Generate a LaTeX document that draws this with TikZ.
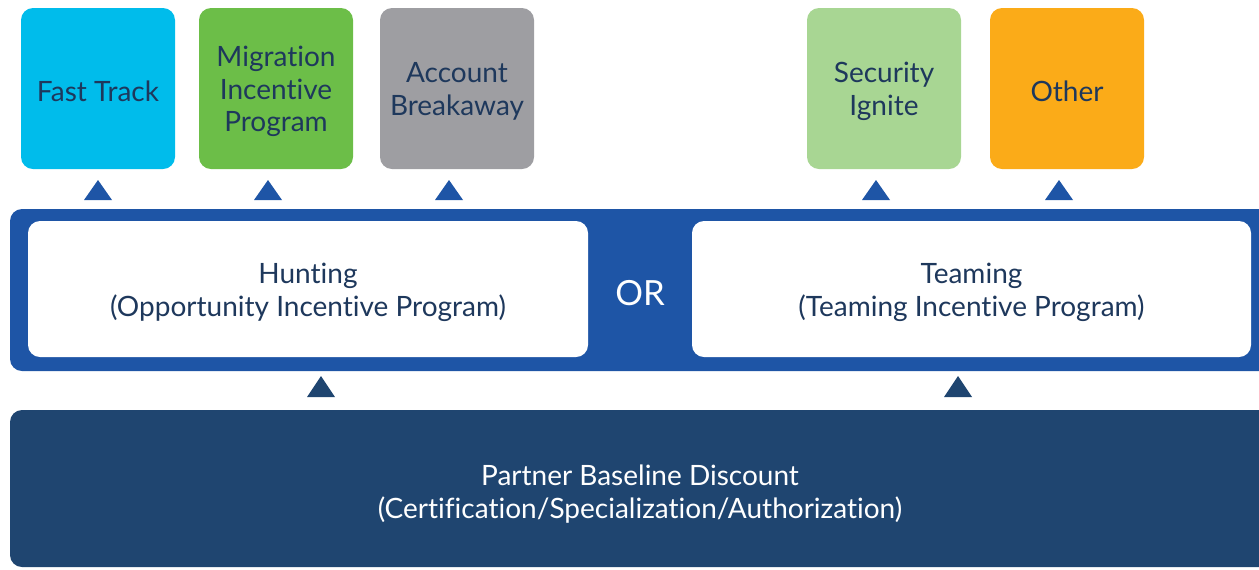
\documentclass[tikz,border=0pt]{standalone}
\usepackage{fontspec}
\setmainfont{Lato}[Ligatures=NoCommon]
\definecolor{ftcyan}{RGB}{0,188,235}
\definecolor{migreen}{RGB}{108,190,72}
\definecolor{abgray}{RGB}{158,158,162}
\definecolor{silgreen}{RGB}{168,214,147}
\definecolor{othorange}{RGB}{251,171,24}
\definecolor{bandblue}{RGB}{30,85,166}
\definecolor{basenavy}{RGB}{31,69,112}
\definecolor{txtnavy}{RGB}{30,56,92}
\tikzset{
	every picture/.style={line width=0.75pt},
	topbox/.style={rounded corners=9pt, minimum width=115.5pt, minimum height=120.75pt,
		inner sep=0pt},
	whitebox/.style={fill=white, rounded corners=9pt, minimum height=102pt, inner sep=0pt},
	boxtext/.style={align=center, text=txtnavy, font=\fontsize{21}{24.5}\selectfont},
	bluetri/.style={fill=bandblue},
	navytri/.style={fill=basenavy}}

\begin{document}
\begin{tikzpicture}[x=0.75pt,y=0.75pt,yscale=-1,xscale=1]
	\useasboundingbox (0,0) rectangle (1259,569);

	% Top row of programs
	\node[topbox, fill=ftcyan]    (fasttrack) at (98,88.5)  {};
	\node[topbox, fill=migreen]   (migration) at (276,88.5) {};
	\node[topbox, fill=abgray]    (breakaway) at (457,88.5) {};
	\node[topbox, fill=silgreen]  (ignite)    at (884,88.5) {};
	\node[topbox, fill=othorange] (other)     at (1067,88.5) {};
	\node[boxtext] (fasttracktxt) at (98,91.5)  {Fast Track};
	\node[boxtext] (migrationtxt) at (276,91.5) {Migration\\Incentive\\Program};
	\node[boxtext] (breakawaytxt) at (457,91.5) {Account\\Breakaway};
	\node[boxtext] (ignitetxt)    at (884,91.5) {Security\\Ignite};
	\node[boxtext] (othertxt)     at (1067,91.5) {Other};

	% Blue band with the two incentive programs
	\fill[bandblue, rounded corners=9pt] (10,209) rectangle (1280,371);
	\node[whitebox, minimum width=420pt] (hunting) at (308,289) {};
	\node[whitebox, minimum width=419.25pt] (teaming) at (971.5,289) {};
	\node[boxtext] (huntingtxt) at (308,292.5) {Hunting\\(Opportunity Incentive Program)};
	\node[boxtext] (teamingtxt) at (971.5,292.5) {Teaming\\(Teaming Incentive Program)};
	\node[text=white, font=\fontsize{26}{30}\selectfont] (or) at (640,293) {OR};

	% Baseline
	\fill[basenavy, rounded corners=9pt] (10,410) rectangle (1280,567);
	\node[boxtext, text=white] (baseline) at (640,494)
		{Partner Baseline Discount\\(Certification/Specialization/Authorization)};

	% Triangles up to the programs
	\foreach \cx in {98,268,449,876,1059}
		\fill[bluetri] (\cx-14,200) -- (\cx+14,200) -- (\cx,180) -- cycle;
	\foreach \cx in {321,958}
		\fill[navytri] (\cx-14,397) -- (\cx+14,397) -- (\cx,376) -- cycle;

\end{tikzpicture}
\end{document}
